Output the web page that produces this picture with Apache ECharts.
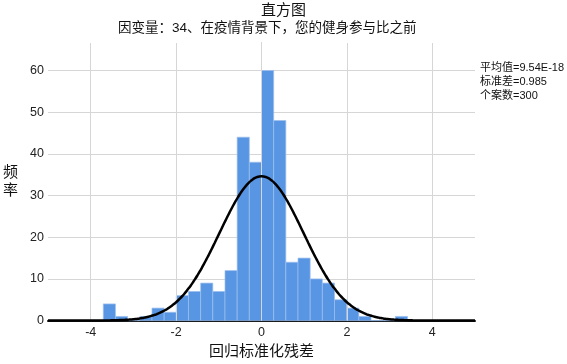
<!DOCTYPE html>
<html><head><meta charset="utf-8">
<script src="https://cdn.jsdelivr.net/npm/echarts@6/dist/echarts.min.js"></script>
<style>html,body{margin:0;padding:0;background:#fff}#c{width:567px;height:364px}</style>
</head><body><div id="c"></div>
<script>
// Histogram bins (lower edges) and counts
const binWidth = 0.285;
const binLower = [-3.705, -3.42, -3.135, -2.85, -2.565, -2.28, -1.995, -1.71, -1.425, -1.14, -0.855, -0.57, -0.285, 0, 0.285, 0.57, 0.855, 1.14, 1.425, 1.71, 1.995, 2.28, 2.565, 2.85, 3.135];
const counts   = [4, 1, 0, 1, 3, 2, 6, 7, 9, 7, 12, 44, 38, 60, 48, 14, 15, 10, 9, 5, 3, 1, 0, 0, 1];
// Statistics shown in the chart
const mean = 9.54e-18, sd = 0.985, n = 300;
const xTicks = [-4, -2, 0, 2, 4];
const statLines = ['平均值=9.54E-18', '标准差=0.985', '个案数=300'];
const titleText = '直方图';
const subtitleText = '因变量：34、在疫情背景下，您的健身参与比之前';

// fitted normal curve scaled to counts
const curve = [];
for (let i = 0; i <= 200; i++) {
  const x = -5 + i * 0.05;
  const y = n * binWidth / (sd * Math.sqrt(2 * Math.PI)) * Math.exp(-0.5 * Math.pow((x - mean) / sd, 2));
  curve.push([x, y]);
}
const barData = binLower.map((b, i) => [b, b + binWidth, counts[i]]);

const FONT = '"Liberation Sans","Noto Sans CJK SC",sans-serif';
const chart = echarts.init(document.getElementById('c'), null, {renderer: 'canvas'});
chart.setOption({
  animation: false,
  textStyle: {fontFamily: FONT},
  grid: {left: 45, right: 92, top: 43, bottom: 42},
  graphic: [
    {type: 'text', left: 261, top: 3, style: {text: titleText, font: '15px ' + FONT, fill: '#111'}},
    {type: 'text', top: 22, left: 118, style: {text: subtitleText, font: '13.5px ' + FONT, fill: '#111'}},
    {type: 'text', left: 480, top: 61, style: {text: statLines.join('\n'), font: '11px ' + FONT, fill: '#111', lineHeight: 14}}
  ],
  xAxis: {
    type: 'value', min: -5, max: 5,
    name: '回归标准化残差', nameLocation: 'middle', nameGap: 21,
    nameTextStyle: {fontSize: 15, color: '#111', fontFamily: FONT},
    axisLine: {show: true, onZero: false, lineStyle: {color: '#111', width: 2}},
    axisTick: {show: false},
    splitLine: {show: false},
    axisLabel: {customValues: xTicks, color: '#222', fontSize: 12.5, margin: 6, fontFamily: FONT}
  },
  yAxis: {
    type: 'value', min: 0, max: 66.6, interval: 10,
    name: '频\n率', nameLocation: 'middle', nameGap: 30, nameRotate: 0,
    nameTextStyle: {fontSize: 15, color: '#111', fontFamily: FONT, lineHeight: 18},
    axisLine: {show: true, lineStyle: {color: '#999', width: 1}},
    axisTick: {show: false},
    axisLabel: {showMaxLabel: false, color: '#222', fontSize: 12.5, margin: 4, fontFamily: FONT},
    splitLine: {show: true, showMaxLine: false, lineStyle: {color: '#d6d6d6', width: 1}}
  },
  series: [
    {
      type: 'line', data: [], silent: true, z: 1,
      markLine: {
        silent: true, symbol: 'none', label: {show: false},
        lineStyle: {color: '#d6d6d6', width: 1, type: 'solid'},
        data: xTicks.map(v => ({xAxis: v}))
      }
    },
    {
      type: 'custom', z: 3, data: barData,
      renderItem: function (params, api) {
        const p0 = api.coord([api.value(0), 0]);
        const p1 = api.coord([api.value(1), api.value(2)]);
        return {
          type: 'rect',
          shape: {x: p0[0], y: p1[1], width: p1[0] - p0[0], height: p0[1] - p1[1]},
          style: {fill: '#5895E3', stroke: '#9DC0EE', lineWidth: 0.7}
        };
      },
      encode: {x: [0, 1], y: 2}
    },
    {
      type: 'line', data: curve, smooth: true, showSymbol: false, z: 5,
      lineStyle: {color: '#000', width: 2.5}
    }
  ]
});
</script></body></html>
